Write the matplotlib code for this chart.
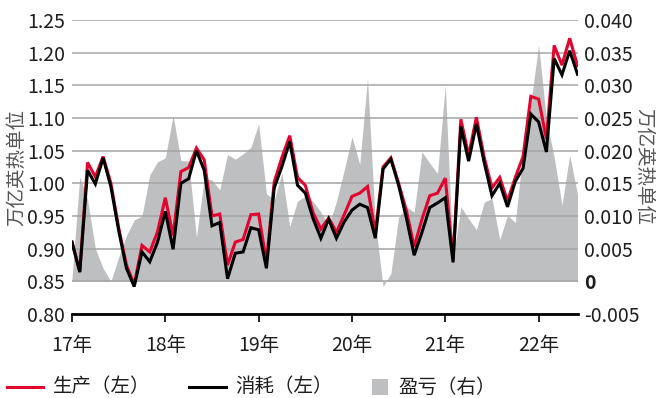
import matplotlib
matplotlib.use("Agg")
import matplotlib.pyplot as plt
import numpy as np
from matplotlib.lines import Line2D
from matplotlib.patches import Rectangle

plt.rcParams['font.family'] = ['Noto Sans CJK SC', 'DejaVu Sans']
plt.rcParams['font.weight'] = 'light'

# Monthly series, Jan 2017 .. Jun 2022
production = [
    0.910, 0.865, 1.032, 1.010, 1.041, 1.000, 0.932, 0.875, 0.845, 0.905, 0.895, 0.926,
    0.978, 0.920, 1.018, 1.024, 1.054, 1.036, 0.950, 0.953, 0.875, 0.910, 0.914, 0.952,
    0.953, 0.880, 1.002, 1.040, 1.073, 1.009, 0.997, 0.955, 0.930, 0.947, 0.925, 0.952,
    0.980, 0.985, 0.995, 0.924, 1.025, 1.039, 1.000, 0.958, 0.903, 0.945, 0.981, 0.985,
    1.008, 0.884, 1.098, 1.043, 1.101, 1.040, 0.993, 1.009, 0.973, 1.009, 1.041, 1.133,
    1.129, 1.068, 1.211, 1.181, 1.222, 1.180,
]
consumption = [
    0.910, 0.864, 1.020, 0.999, 1.039, 0.995, 0.928, 0.870, 0.842, 0.895, 0.880, 0.910,
    0.957, 0.899, 1.000, 1.007, 1.050, 1.020, 0.935, 0.940, 0.854, 0.893, 0.895, 0.932,
    0.929, 0.870, 0.993, 1.026, 1.064, 0.997, 0.985, 0.946, 0.916, 0.945, 0.916, 0.941,
    0.959, 0.968, 0.963, 0.916, 1.022, 1.037, 0.997, 0.947, 0.890, 0.925, 0.963, 0.970,
    0.978, 0.879, 1.087, 1.034, 1.091, 1.032, 0.981, 1.000, 0.964, 1.003, 1.023, 1.106,
    1.094, 1.048, 1.191, 1.166, 1.203, 1.167,
]
balance = [
    0.0005, 0.0160, 0.0125, 0.0050, 0.0020, 0.0000, 0.0037, 0.0070, 0.0094, 0.0100, 0.0163, 0.0183,
    0.0189, 0.0254, 0.0185, 0.0184, 0.0067, 0.0158, 0.0155, 0.0140, 0.0194, 0.0187, 0.0195, 0.0205,
    0.0241, 0.0134, 0.0125, 0.0165, 0.0084, 0.0123, 0.0130, 0.0122, 0.0106, 0.0085, 0.0122, 0.0170,
    0.0221, 0.0179, 0.0311, 0.0090, -0.0008, 0.0012, 0.0098, 0.0114, 0.0106, 0.0198, 0.0181, 0.0165,
    0.0300, 0.0035, 0.0114, 0.0096, 0.0079, 0.0121, 0.0127, 0.0064, 0.0101, 0.0090, 0.0200, 0.0272,
    0.0362, 0.0248, 0.0190, 0.0117, 0.0193, 0.0133,
]
year_labels = ['17年', '18年', '19年', '20年', '21年', '22年']
left_ticks = [0.80, 0.85, 0.90, 0.95, 1.00, 1.05, 1.10, 1.15, 1.20, 1.25]
right_ticks = [-0.005, 0.0, 0.005, 0.010, 0.015, 0.020, 0.025, 0.030, 0.035, 0.040]
legend_labels = ['生产（左）', '消耗（左）', '盈亏（右）']
unit_label = '万亿英热单位'

RED = '#E4032E'
FILL = '#BEBFC1'
BG = '#E8E8E3'
GRID = '#A4A4A4'
TXT = '#1E1E1E'
FS = 14

months = np.arange(len(production))

fig = plt.figure(figsize=(6.56, 3.98), dpi=100)
ax = fig.add_axes([72 / 656, 84 / 398, 505.5 / 656, 294 / 398])
ax2 = ax.twinx()

# right axis sits underneath: background + balance area
ax.set_zorder(ax2.get_zorder() + 1)
ax.patch.set_visible(False)
ax2.set_facecolor(BG)
ax2.fill_between(months, 0, balance, color=FILL, linewidth=0)
ax2.set_ylim(-0.005, 0.040)
ax2.set_yticks(right_ticks)
rlabels = ['0' if abs(v) < 1e-12 else f'{v:.3f}' for v in right_ticks]
ax2.set_yticklabels(rlabels)
for t, v in zip(ax2.get_yticklabels(), right_ticks):
    if abs(v) < 1e-12:
        t.set_fontweight('bold')
ax2.tick_params(axis='y', length=0, pad=5, labelsize=FS, labelcolor=TXT)

# left axis on top: grid + lines
ax.set_ylim(0.80, 1.25)
ax.set_yticks(left_ticks)
ax.set_yticklabels([f'{v:.2f}' for v in left_ticks])
ax.tick_params(axis='y', length=0, pad=5, labelsize=FS, labelcolor=TXT)
ax.grid(axis='y', color=GRID, linewidth=1.1, zorder=1)
ax.set_axisbelow(True)

ax.plot(months, production, color=RED, linewidth=2.2, zorder=3, solid_joinstyle='miter')
ax.plot(months, consumption, color='black', linewidth=2.2, zorder=4, solid_joinstyle='miter')

ax.set_xlim(0, len(production) - 1)
ax.set_xticks(np.arange(0, len(production), 12))
ax.set_xticklabels(year_labels)
ax.tick_params(axis='x', direction='out', length=6, width=1.2, color='black',
               pad=9, labelsize=FS, labelcolor=TXT)

for a in (ax, ax2):
    for s in ('top', 'left', 'right', 'bottom'):
        a.spines[s].set_visible(False)
ax.spines['bottom'].set_visible(True)
ax.spines['bottom'].set_linewidth(2.0)
ax.spines['bottom'].set_color('black')

# unit labels on both sides
fig.text(17 / 656, 1 - 167 / 398, unit_label, rotation=90, ha='center', va='center',
         fontsize=FS, color='#555555')
fig.text(644 / 656, 1 - 167 / 398, unit_label, rotation=270, ha='center', va='center',
         fontsize=FS, color='#555555')

# legend row
ly = 1 - 387 / 398
W, H = 656, 398
fig.add_artist(Line2D([7 / W, 43 / W], [ly, ly], color=RED, linewidth=2.2))
fig.text(53 / W, ly, legend_labels[0], ha='left', va='center', fontsize=FS, color=TXT)
fig.add_artist(Line2D([189 / W, 226 / W], [ly, ly], color='black', linewidth=2.2))
fig.text(235 / W, ly, legend_labels[1], ha='left', va='center', fontsize=FS, color=TXT)
fig.add_artist(Rectangle((372 / W, ly - 8 / H), 16 / W, 16 / H, facecolor=FILL,
                         edgecolor='none', transform=fig.transFigure))
fig.text(398 / W, ly, legend_labels[2], ha='left', va='center', fontsize=FS, color=TXT)

fig.savefig('out.png', dpi=100)
